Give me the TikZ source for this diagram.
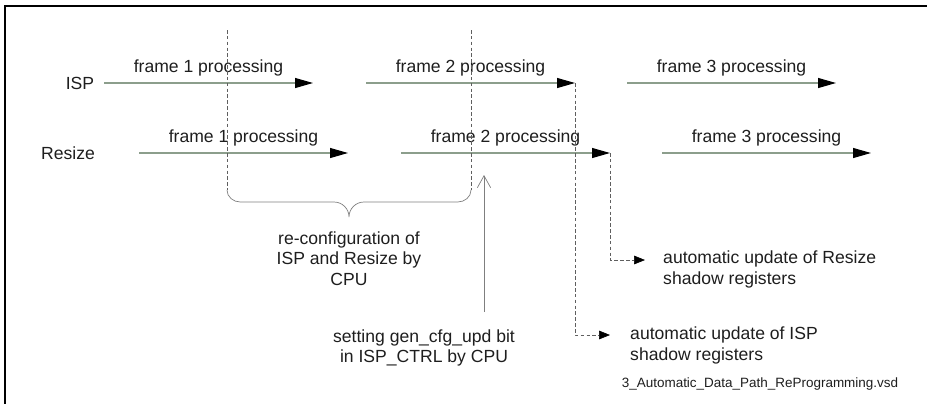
\documentclass[tikz,border=0pt]{standalone}
\usepackage{fontspec}
\setmainfont{Liberation Sans}
\usetikzlibrary{arrows.meta}

\definecolor{flowline}{RGB}{140,158,140}
\definecolor{markline}{RGB}{95,95,95}
\definecolor{labeltext}{RGB}{30,30,30}

\begin{document}
\begin{tikzpicture}[
        >={Triangle[length=5.4mm,width=3mm,black]},
        every node/.style={font=\fontsize{15}{17.5}\selectfont, text=labeltext},
        flow/.style={->, draw=flowline, line width=0.9pt},
        framelabel/.style={midway, above=1.6mm, inner sep=1pt},
        marker/.style={draw=markline, dash pattern=on 3pt off 2pt, line width=0.6pt},
        update/.style={marker, -{Triangle[length=3.3mm,width=2.6mm,black]}},
        note/.style={align=center},
        sidenote/.style={align=left, anchor=west, inner sep=0pt}
    ]
        \useasboundingbox (0,0) rectangle (27.81,-12.09);
        \draw[line width=1.5pt] (0.15,-12.6) |- (28.3,-0.18);

        % rows
        \node (isp) at (2.40,-2.49) {ISP};
        \node (resize) at (2.04,-4.59) {Resize};

        \coordinate (isp1s) at (3.12,-2.49);
        \coordinate (isp1e) at (9.39,-2.49);
        \coordinate (isp2s) at (10.98,-2.49);
        \coordinate (isp2e) at (17.25,-2.49);
        \coordinate (isp3s) at (18.81,-2.49);
        \coordinate (isp3e) at (25.08,-2.49);
        \coordinate (rsz1s) at (4.17,-4.59);
        \coordinate (rsz1e) at (10.44,-4.59);
        \coordinate (rsz2s) at (12.03,-4.59);
        \coordinate (rsz2e) at (18.30,-4.59);
        \coordinate (rsz3s) at (19.86,-4.59);
        \coordinate (rsz3e) at (26.13,-4.59);

        \draw[flow] (isp1s) -- (isp1e) node[framelabel] (ispf1) {frame 1 processing};
        \draw[flow] (isp2s) -- (isp2e) node[framelabel] (ispf2) {frame 2 processing};
        \draw[flow] (isp3s) -- (isp3e) node[framelabel] (ispf3) {frame 3 processing};
        \draw[flow] (rsz1s) -- (rsz1e) node[framelabel] (rszf1) {frame 1 processing};
        \draw[flow] (rsz2s) -- (rsz2e) node[framelabel] (rszf2) {frame 2 processing};
        \draw[flow] (rsz3s) -- (rsz3e) node[framelabel] (rszf3) {frame 3 processing};

        % re-configuration window
        \coordinate (cfgtopl) at (6.81,-0.90);
        \coordinate (cfgbotl) at (6.81,-5.70);
        \coordinate (cfgtopr) at (14.13,-0.90);
        \coordinate (cfgbotr) at (14.13,-5.70);
        \draw[marker] (cfgtopl) -- (cfgbotl);
        \draw[marker] (cfgtopr) -- (cfgbotr);
        \draw[draw=markline!80, line width=0.6pt] (cfgbotl) to[out=-90,in=180] (7.21,-6.06)
            -- (10.02,-6.06) to[out=0,in=90] (10.47,-6.51)
            to[out=90,in=180] (10.92,-6.06) -- (13.73,-6.06) to[out=0,in=-90] (cfgbotr);
        \node[note] (reconf) at (10.47,-7.76) {re-configuration of\\ISP and Resize by\\CPU};

        % gen_cfg_upd
        \coordinate (updbase) at (14.52,-9.36);
        \coordinate (updtip) at (14.52,-5.25);
        \draw[-{Straight Barb[length=3.6mm,width=4mm]}, draw=markline!80, line width=0.6pt] (updbase) -- (updtip);
        \node[note] (setbit) at (12.72,-10.44) {setting gen\_cfg\_upd bit\\in ISP\_CTRL by CPU};

        % shadow register updates
        \coordinate (ispupd) at (18.30,-10.05);
        \coordinate (rszupd) at (19.35,-7.80);
        \draw[update] (isp2e) |- (ispupd);
        \draw[update] (rsz2e) |- (rszupd);
        \node[sidenote] (ispshadow) at (18.90,-10.37) {automatic update of ISP\\shadow registers};
        \node[sidenote] (rszshadow) at (19.89,-8.09) {automatic update of Resize\\shadow registers};

        \node[font=\fontsize{11.5}{13}\selectfont] (vsdname) at (22.80,-11.52) {3\_Automatic\_Data\_Path\_ReProgramming.vsd};
    \end{tikzpicture}
\end{document}
